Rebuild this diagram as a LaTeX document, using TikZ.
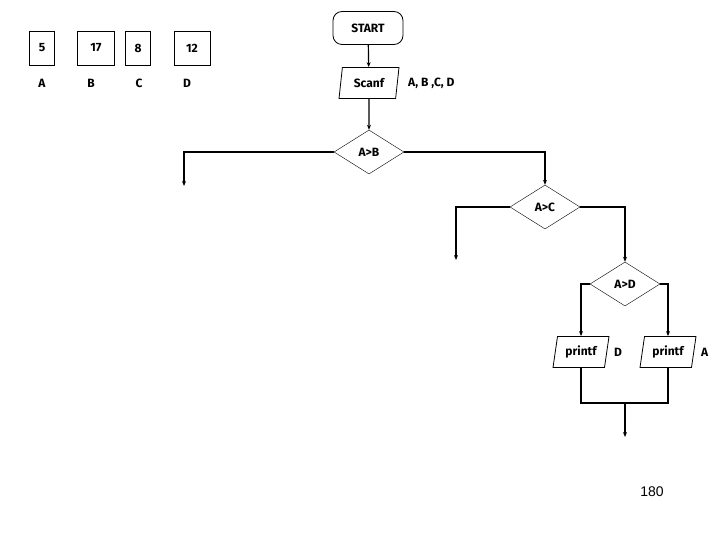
\documentclass[tikz,border=0pt]{standalone}
\usepackage{fontspec}
\setmainfont{Fira Sans}
\newfontfamily\plainsans{Liberation Sans}
\usetikzlibrary{shapes.geometric,arrows.meta}
\begin{document}
\begin{tikzpicture}[x=1pt,y=-1pt,
  every node/.style={font=\bfseries\fontsize{12}{14}\selectfont, inner sep=0pt},
  box/.style={draw, thick, minimum width=25pt, minimum height=34pt},
  para/.style={draw, thick, trapezium, trapezium left angle=70, trapezium right angle=110, trapezium stretches body, minimum width=60pt, minimum height=31pt},
  dec/.style={draw, diamond, aspect=2.2, minimum width=70pt, minimum height=44pt},
  line/.style={draw, line width=1.2pt},
  arr/.style={line, -{Stealth[length=5pt,width=4pt]}}]
\useasboundingbox (0,0) rectangle (720,540);
\node[box] (b1) at (42,48) {5};
\node[box, minimum width=37pt] (b2) at (96,48) {17};
\node[box] (b3) at (138,48) {8};
\node[box, minimum width=36pt] (b4) at (192,48) {12};
\node (lA) at (42,83) {A};
\node (lB) at (91,83) {B};
\node (lC) at (139,83) {C};
\node (lD) at (187,83) {D};
\node[draw, thick, rounded corners=9pt, minimum width=70pt, minimum height=33pt] (start) at (368,28) {START};
\node[para] (scan) at (369,83) {Scanf};
\node[anchor=west] (vars) at (408,83) {A, B ,C, D};
\node[dec] (d1) at (369,152) {A>B};
\node[dec] (d2) at (545,207) {A>C};
\node[dec] (d3) at (625,284) {A>D};
\node[para, minimum width=56pt] (p1) at (581,352) {printf};
\node[anchor=west] (pD) at (614,352) {D};
\node[para, minimum width=56pt] (p2) at (668,352) {printf};
\node[anchor=west] (pA) at (701,352) {A};
\coordinate (e1) at (184,186);
\coordinate (e2) at (456,260);
\coordinate (j) at (625,403);
\coordinate (e3) at (625,437);
\node[font=\plainsans\fontsize{14}{16}\selectfont] (num) at (652,492) {180};
\draw[arr] (start) -- (scan);
\draw[arr] (scan) -- (d1);
\draw[arr] (d1.west) -| (e1);
\draw[arr] (d1.east) -| (d2.north);
\draw[arr] (d2.west) -| (e2);
\draw[arr] (d2.east) -| (d3.north);
\draw[arr] (d3.west) -| (p1.north);
\draw[arr] (d3.east) -| (p2.north);
\draw[line] (p1.south) |- (j);
\draw[line] (p2.south) |- (j);
\draw[arr] (j) -- (e3);
\end{tikzpicture}
\end{document}
